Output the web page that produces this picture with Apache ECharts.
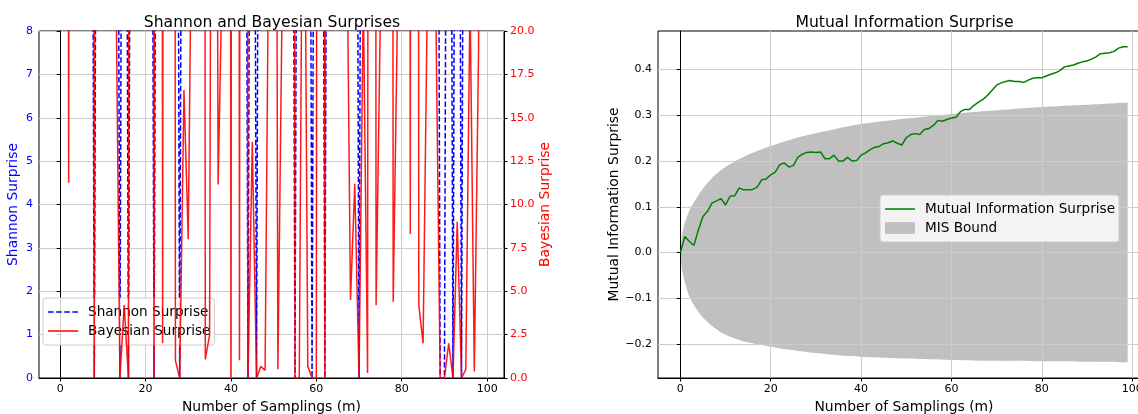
<!DOCTYPE html>
<html><head><meta charset="utf-8">
<script src="https://cdn.jsdelivr.net/npm/echarts@6/dist/echarts.min.js"></script>
<style>html,body{margin:0;padding:0;background:#fff}#c{width:1138px;height:414px}</style>
</head><body><div id="c"></div>
<script>
// sampling index m
const mValues = [0,1,2,3,4,5,6,7,8,9,10,11,12,13,14,15,16,17,18,19,20,21,22,23,24,25,26,27,28,29,30,31,32,33,34,35,36,37,38,39,40,41,42,43,44,45,46,47,48,49,50,51,52,53,54,55,56,57,58,59,60,61,62,63,64,65,66,67,68,69,70,71,72,73,74,75,76,77,78,79,80,81,82,83,84,85,86,87,88,89,90,91,92,93,94,95,96,97,98,99];
// Shannon surprise (values above 8 are off-scale)
const shannon = [
 30,30,30,30,30,30,30,30,0,30,
 30,30,30,30,0,30,0,30,30,30,
 30,30,0,30,30,30,30,30,0,30,
 30,30,30,30,30,30,30,30,30,30,
 30,30,30,30,0,30,0,30,30,30,
 30,30,30,30,30,0,30,30,30,0,
 30,30,0,30,30,30,30,30,30,30,
 0,30,30,30,30,30,30,30,30,30,
 30,30,30,30,30,30,30,30,30,0,
 0,30,0,30,0,30,30,30,30,30];
// Bayesian surprise (values above 20 are off-scale)
const bayesian = [
 300,300,11.25,300,300,300,300,300,0,300,
 300,300,300,25,0,4.2,0,300,300,300,
 300,300,0,300,2.0,300,300,1.0,0,16.6,
 8.0,32,300,300,1.08,2.48,90,11.15,24,300,
 0,300,1.03,300,0,13.6,0,0.67,0.44,30,
 100,0.5,22,300,300,0,0,40,0.67,0,
 0,300,0,300,300,300,300,30,4.5,11.2,
 0,22,0.29,300,4.2,21,300,300,4.4,21,
 300,300,8.3,300,4.2,2.0,22,300,21,0,
 0,2.0,0,9.0,0,0.48,22,0.38,19,300];
// Mutual information surprise
const mis = [
 0,0.035,0.024,0.0155,0.05,0.079,0.09,0.108,0.113,0.118,
 0.104,0.123,0.124,0.141,0.137,0.137,0.138,0.143,0.159,0.161,
 0.17,0.176,0.192,0.196,0.187,0.19,0.208,0.215,0.219,0.22,
 0.219,0.22,0.205,0.205,0.213,0.2,0.2,0.208,0.2,0.201,
 0.213,0.218,0.225,0.23,0.232,0.238,0.24,0.244,0.239,0.235,
 0.251,0.258,0.26,0.258,0.269,0.271,0.278,0.289,0.287,0.291,
 0.294,0.296,0.308,0.313,0.313,0.322,0.329,0.335,0.344,0.355,
 0.366,0.371,0.374,0.376,0.374,0.374,0.372,0.377,0.381,0.382,
 0.382,0.386,0.39,0.393,0.398,0.406,0.408,0.41,0.414,0.417,
 0.419,0.423,0.428,0.435,0.436,0.437,0.44,0.447,0.45,0.45];
// MIS bound
const boundM = [0,0.25,0.5,1,2,3,4,5,6,7,8,9,10,12,15,20,25,30,35,40,50,60,70,80,90,99];
const boundUpper = [0,0.03,0.045,0.065,0.092,0.11,0.126,0.14,0.152,0.163,0.172,0.18,0.187,0.199,0.214,0.233,0.249,0.261,0.272,0.281,0.293,0.303,0.311,0.318,0.323,0.328];
const boundLower = [0,-0.03,-0.045,-0.065,-0.097,-0.115,-0.13,-0.142,-0.152,-0.161,-0.168,-0.175,-0.18,-0.188,-0.197,-0.206,-0.214,-0.22,-0.225,-0.228,-0.232,-0.235,-0.237,-0.238,-0.239,-0.24];
// tick labels
const xTicks = [0,20,40,60,80,100];
const misTicks = [-0.2,-0.1,0,0.1,0.2,0.3,0.4];

const zip = (xs, ys) => xs.map((x, i) => [x, ys[i]]);
const FONT = 'DejaVu Sans';
const gridLine = {show:true, lineStyle:{color:'#cccccc', width:1}};
const tick = {show:true, length:3.5, lineStyle:{color:'#000', width:1}};
const ICON_SOLID = 'path://M0,0H30V1.5H0Z';
const ICON_DASH = 'path://M0,0H5.5V1.5H0Z M7.9,0H13.4V1.5H7.9Z M15.8,0H21.3V1.5H15.8Z M23.7,0H29.2V1.5H23.7Z';

function xAxisFor(gridIndex, z){
  return {
    type:'value', gridIndex, min:-4.95, max:103.95, z,
    name:'Number of Samplings (m)', nameLocation:'middle', nameGap:21,
    nameTextStyle:{fontSize:13.9, color:'#000', fontFamily:FONT},
    axisLine:{show:true, onZero:false, lineStyle:{color:'#000', width:1}},
    axisTick:Object.assign({customValues:xTicks}, tick),
    axisLabel:{customValues:xTicks, fontSize:11, color:'#000', margin:6, fontFamily:FONT},
    splitLine:gridLine
  };
}
const legendBase = {orient:'vertical', itemWidth:30, itemHeight:14, itemGap:3,
  padding:[6,4,6,5], backgroundColor:'rgba(255,255,255,0.8)', borderColor:'#cccccc', borderWidth:1, borderRadius:3,
  textStyle:{fontSize:13.6, color:'#000', fontFamily:FONT, padding:[0,0,0,5], lineHeight:16}};

const chart = echarts.init(document.getElementById('c'), null, {renderer:'canvas'});
chart.setOption({
  animation:false,
  backgroundColor:'#fff',
  textStyle:{fontFamily:FONT},
  title:[
    {text:'Shannon and Bayesian Surprises', left:267, top:10, textAlign:'center',
     textStyle:{fontSize:15.6, fontWeight:'normal', color:'#000', fontFamily:FONT}},
    {text:'Mutual Information Surprise', left:899.5, top:10, textAlign:'center',
     textStyle:{fontSize:15.6, fontWeight:'normal', color:'#000', fontFamily:FONT}}
  ],
  grid:[
    {left:39, top:31, width:465, height:347, outerBoundsMode:'none', containLabel:false,
     show:true, borderColor:'#000', borderWidth:1, backgroundColor:'rgba(0,0,0,0)'},
    {left:658, top:31, width:492, height:347, outerBoundsMode:'none', containLabel:false,
     show:true, borderColor:'#000', borderWidth:1, backgroundColor:'rgba(0,0,0,0)'}
  ],
  legend:[
    Object.assign({left:43, top:298, z:2,
     data:[{name:'Shannon Surprise', icon:ICON_DASH}, {name:'Bayesian Surprise', icon:ICON_SOLID}]}, legendBase),
    Object.assign({left:880, top:195, z:5,
     data:[{name:'Mutual Information Surprise', icon:ICON_SOLID}, {name:'MIS Bound', icon:'path://M0,0H28V11H0Z'}]}, legendBase)
  ],
  xAxis:[xAxisFor(0, 0), xAxisFor(1, 2)],
  yAxis:[
    {type:'value', gridIndex:0, min:0, max:8, interval:1, position:'left',
     name:'Shannon Surprise', nameLocation:'middle', nameGap:19, nameRotate:90,
     nameTextStyle:{fontSize:13.9, color:'#0000ff', fontFamily:FONT},
     axisLine:{show:true, lineStyle:{color:'#000'}}, axisTick:tick,
     axisLabel:{fontSize:11, color:'#0000ff', margin:6, fontFamily:FONT},
     splitLine:gridLine},
    {type:'value', gridIndex:0, min:0, max:20, interval:2.5, position:'right',
     name:'Bayesian Surprise', nameLocation:'middle', nameGap:28, nameRotate:90,
     nameTextStyle:{fontSize:13.9, color:'#ff0000', fontFamily:FONT},
     axisLine:{show:true, lineStyle:{color:'#000'}}, axisTick:tick,
     axisLabel:{fontSize:11, color:'#ff0000', margin:6, fontFamily:FONT, formatter:v=>v.toFixed(1)},
     splitLine:{show:false}},
    {type:'value', gridIndex:1, min:-0.2745, max:0.4845, z:2,
     name:'Mutual Information Surprise', nameLocation:'middle', nameGap:32, nameRotate:90,
     nameTextStyle:{fontSize:13.9, color:'#000', fontFamily:FONT},
     axisLine:{show:true, lineStyle:{color:'#000'}},
     axisTick:Object.assign({customValues:misTicks}, tick),
     axisLabel:{customValues:misTicks, fontSize:11, color:'#000', margin:6, fontFamily:FONT,
       formatter:v=>(v<-1e-9?'\u2212':'')+Math.abs(v).toFixed(1)},
     splitLine:gridLine}
  ],
  series:[
    {type:'line', name:'Shannon Surprise', xAxisIndex:0, yAxisIndex:0, z:1, symbol:'none',
     data:zip(mValues, shannon), lineStyle:{color:'#0000ff', width:1.5, type:[5.5,2.4]}, itemStyle:{color:'#0000ff'}},
    {type:'line', name:'Bayesian Surprise', xAxisIndex:0, yAxisIndex:1, z:3, symbol:'none',
     data:zip(mValues, bayesian), lineStyle:{color:'#ff0000', width:1.5, opacity:0.9}, itemStyle:{color:'#ff0000'}},
    {type:'line', name:'MIS Bound', xAxisIndex:1, yAxisIndex:2, z:1, symbol:'none', smooth:0.3,
     data:zip(boundM, boundUpper), lineStyle:{width:0}, itemStyle:{color:'#c0c0c0'},
     areaStyle:{color:'#c0c0c0', opacity:1}},
    {type:'line', name:'MIS Bound', xAxisIndex:1, yAxisIndex:2, z:1, symbol:'none', smooth:0.3,
     data:zip(boundM, boundLower), lineStyle:{width:0}, itemStyle:{color:'#c0c0c0'},
     areaStyle:{color:'#c0c0c0', opacity:1}},
    {type:'line', name:'Mutual Information Surprise', xAxisIndex:1, yAxisIndex:2, z:4, symbol:'none',
     data:zip(mValues, mis), lineStyle:{color:'#008000', width:1.5}, itemStyle:{color:'#008000'}}
  ]
});
</script></body></html>
